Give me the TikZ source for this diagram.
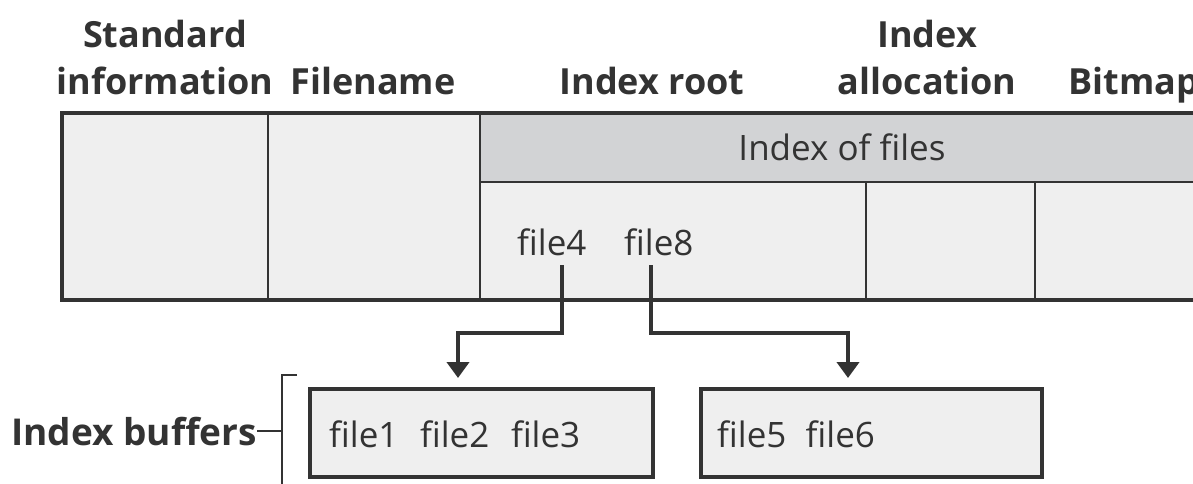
\documentclass[tikz,border=0pt]{standalone}
\usepackage{fontspec}
\setmainfont{Open Sans}
\usepackage{tikz}
\usetikzlibrary{calc,arrows.meta,positioning}
\definecolor{line_gray}{HTML}{333333}
\definecolor{cell_fill}{HTML}{EFEFEF}
\definecolor{band_fill}{HTML}{D2D3D5}
\tikzset{
header/.style={font=\bfseries\fontsize{36}{47}\selectfont, text=line_gray, align=center, inner sep=0pt},
entry/.style={font=\fontsize{35}{40}\selectfont, text=line_gray, inner sep=0pt},
cell/.style={rectangle, draw=line_gray, line width=2pt, fill=cell_fill, anchor=north west, inner sep=0pt, outer sep=0pt},
band/.style={cell, fill=band_fill},
buffer/.style={rectangle, draw=line_gray, line width=4pt, fill=cell_fill, anchor=north west, inner sep=0pt, outer sep=0pt, minimum height=88pt},
frame/.style={draw=line_gray, line width=4pt},
bracket/.style={draw=line_gray, line width=2pt},
link/.style={draw=line_gray, line width=4pt, -{Triangle[width=22pt,length=16pt]}, shorten >=11pt}
}

\begin{document}
\begin{tikzpicture}[x=1pt,y=-1pt]
    \useasboundingbox (0,0) rectangle (1193,484);
    % file record
    \node[cell, minimum width=206pt, minimum height=187pt] (std_cell) at (62,113) {};
    \node[cell, minimum width=212pt, minimum height=187pt] (name_cell) at (268,113) {};
    \node[band, minimum width=724pt, minimum height=69pt] (root_band) at (480,113) {};
    \node[entry] (index_text) at (root_band.center) {Index of files};
    \node[cell, minimum width=386pt, minimum height=118pt] (root_cell) at (480,182) {};
    \node[cell, minimum width=169pt, minimum height=118pt] (alloc_cell) at (866,182) {};
    \node[cell, minimum width=169pt, minimum height=118pt] (bitmap_cell) at (1035,182) {};
    \draw[frame] (root_band.north east) -- (std_cell.north west) -- (std_cell.south west) -- (bitmap_cell.south east);
    \node[entry, anchor=base west] (file4) at (517,255) {file4};
    \node[entry, anchor=base west] (file8) at (624,255) {file8};
    % attribute names
    \node[header, anchor=base] (std_label) at (165,95) {Standard\\information};
    \node[header, anchor=base] (name_label) at (373,95) {Filename};
    \node[header, anchor=base] (root_label) at (652,95) {Index root};
    \node[header, anchor=base] (alloc_label) at (927,95) {Index\\allocation};
    \node[header, anchor=base west] (bitmap_label) at (1068,95) {Bitmap};
    % index buffers
    \node[buffer, minimum width=343pt] (buf_a) at (310,389) {};
    \node[buffer, minimum width=341pt] (buf_b) at (701,389) {};
    \node[entry, anchor=base west] (buf_a_text) at ([xshift=19pt,yshift=-14pt]buf_a.west) {file1\hspace{0.62em}file2\hspace{0.62em}file3};
    \node[entry, anchor=base west] (buf_b_text) at ([xshift=16pt,yshift=-14pt]buf_b.west) {file5\hspace{0.55em}file6};
    \node[header, font=\bfseries\fontsize{37}{47}\selectfont, anchor=base east] (buffers_label) at (257,445) {Index buffers};
    \coordinate (brace_top) at (297,375);
    \coordinate (brace_bot) at (282,490);
    \draw[bracket] (brace_top) -| (brace_bot);
    \draw[bracket] (buffers_label.east) -- (buffers_label.east -| brace_bot);
    % links
    \coordinate (turn_a) at (458,333);
    \coordinate (turn_b) at (848,333);
    \draw[link] ([xshift=10pt,yshift=-10pt]file4.base) |- (turn_a) -- (turn_a |- buf_a.north);
    \draw[link] ([xshift=-8pt,yshift=-10pt]file8.base) |- (turn_b) -- (turn_b |- buf_b.north);
\end{tikzpicture}
\end{document}
